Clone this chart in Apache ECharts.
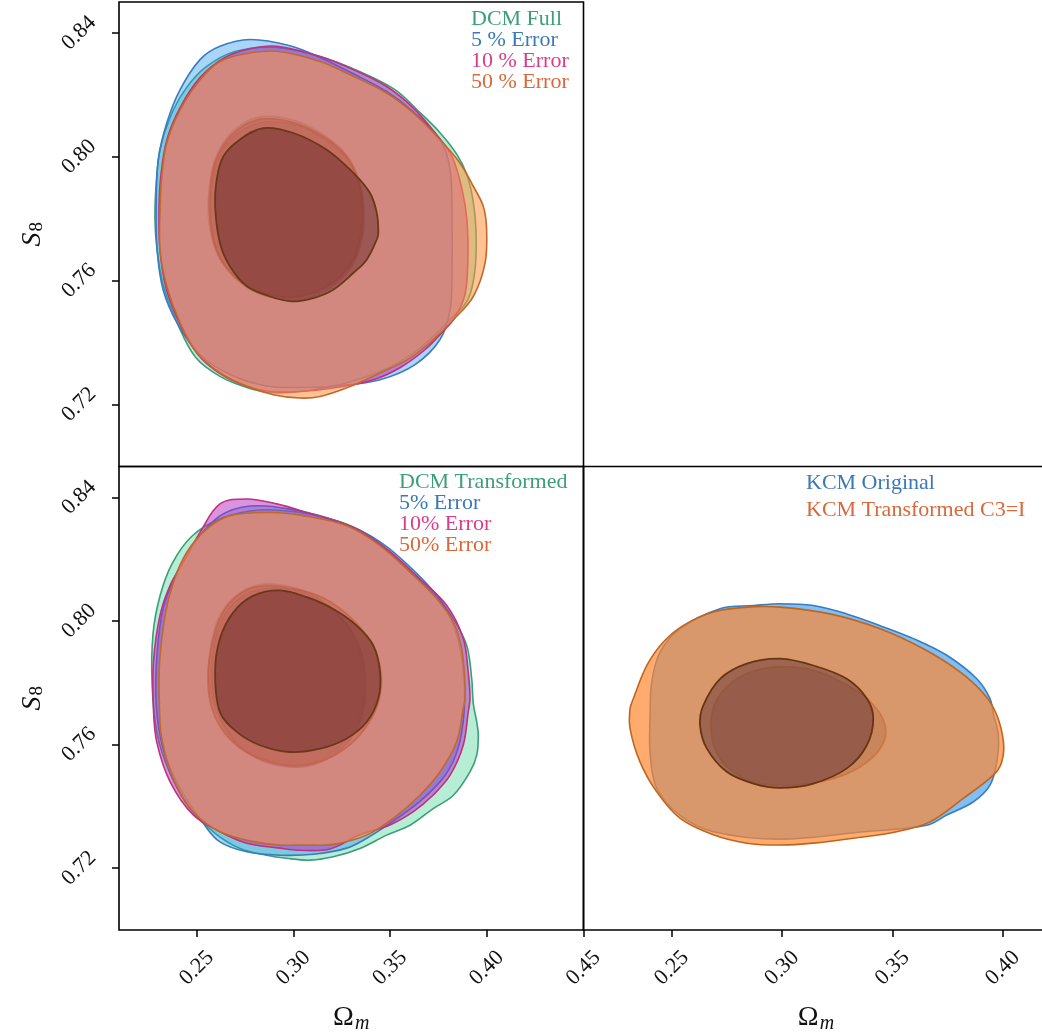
<!DOCTYPE html>
<html>
<head>
<meta charset="utf-8">
<script src="https://cdn.jsdelivr.net/npm/echarts@6/dist/echarts.min.js"></script>
<style>
  html, body { margin: 0; padding: 0; background: #fff; }
  #chart { width: 1042px; height: 1035px; }
</style>
</head>
<body>
<div id="chart"></div>
<script>
// Tick values
const yTicks = [0.72, 0.76, 0.80, 0.84];
const xTicksLeft = [0.25, 0.30, 0.35, 0.40, 0.45];
const xTicksRight = [0.25, 0.30, 0.35, 0.40];

// Legend labels
const dcmFullLabels = ['DCM Full', '5 % Error', '10 % Error', '50 % Error'];
const dcmTransLabels = ['DCM Transformed', '5% Error', '10% Error', '50% Error'];
const kcmLabels = ['KCM Original', 'KCM Transformed C3=I'];

// ---- Top-left: DCM Full, [Omega_m, S8] contour points ----
const tlGreenOuter = [[0.2910,0.8353],[0.3138,0.8324],[0.3344,0.8275],[0.3525,0.8217],[0.3654,0.8143],[0.3758,0.8078],[0.3846,0.8007],[0.3897,0.7942],[0.3928,0.7862],[0.3944,0.7765],[0.3939,0.7636],[0.3902,0.7539],[0.3810,0.7474],[0.3706,0.7410],[0.3603,0.7358],[0.3448,0.7307],[0.3241,0.7265],[0.3034,0.7242],[0.2879,0.7239],[0.2759,0.7255],[0.2620,0.7291],[0.2496,0.7351],[0.2403,0.7458],[0.2326,0.7587],[0.2295,0.7700],[0.2284,0.7797],[0.2290,0.7910],[0.2310,0.8023],[0.2362,0.8127],[0.2440,0.8217],[0.2543,0.8288],[0.2698,0.8340]];
const tlGreenInner = [[0.2812,0.8127],[0.2990,0.8120],[0.3145,0.8075],[0.3275,0.8005],[0.3340,0.7920],[0.3360,0.7825],[0.3348,0.7730],[0.3295,0.7648],[0.3190,0.7585],[0.3040,0.7548],[0.2900,0.7550],[0.2770,0.7577],[0.2665,0.7630],[0.2595,0.7705],[0.2562,0.7800],[0.2565,0.7897],[0.2597,0.7995],[0.2680,0.8078]];
const tlBlueOuter = [[0.2776,0.8379],[0.2982,0.8359],[0.3138,0.8321],[0.3308,0.8269],[0.3482,0.8211],[0.3618,0.8146],[0.3758,0.8056],[0.3810,0.7959],[0.3820,0.7797],[0.3820,0.7636],[0.3810,0.7506],[0.3758,0.7410],[0.3629,0.7329],[0.3448,0.7280],[0.3241,0.7261],[0.3034,0.7255],[0.2853,0.7261],[0.2672,0.7297],[0.2517,0.7361],[0.2403,0.7458],[0.2326,0.7571],[0.2295,0.7700],[0.2290,0.7840],[0.2301,0.7991],[0.2345,0.8109],[0.2414,0.8217],[0.2517,0.8314],[0.2620,0.8357]];
const tlBlueInner = [[0.2830,0.8110],[0.3000,0.8105],[0.3150,0.8062],[0.3272,0.7998],[0.3342,0.7915],[0.3365,0.7822],[0.3352,0.7727],[0.3300,0.7645],[0.3195,0.7580],[0.3045,0.7540],[0.2910,0.7543],[0.2780,0.7571],[0.2678,0.7624],[0.2606,0.7697],[0.2575,0.7795],[0.2577,0.7893],[0.2607,0.7988],[0.2690,0.8065]];
const tlMagentaOuter = [[0.2914,0.8357],[0.3138,0.8324],[0.3308,0.8282],[0.3482,0.8227],[0.3618,0.8159],[0.3732,0.8078],[0.3820,0.8001],[0.3872,0.7894],[0.3897,0.7797],[0.3902,0.7668],[0.3887,0.7555],[0.3835,0.7481],[0.3773,0.7436],[0.3680,0.7377],[0.3551,0.7319],[0.3412,0.7280],[0.3225,0.7255],[0.3034,0.7242],[0.2879,0.7242],[0.2750,0.7261],[0.2620,0.7300],[0.2507,0.7361],[0.2414,0.7458],[0.2341,0.7577],[0.2310,0.7700],[0.2305,0.7829],[0.2315,0.7942],[0.2346,0.8056],[0.2414,0.8159],[0.2517,0.8256],[0.2646,0.8321],[0.2776,0.8349]];
const tlMagentaInner = [[0.2817,0.8120],[0.2982,0.8114],[0.3138,0.8072],[0.3267,0.8007],[0.3334,0.7926],[0.3355,0.7829],[0.3344,0.7733],[0.3293,0.7652],[0.3189,0.7588],[0.3034,0.7549],[0.2905,0.7552],[0.2776,0.7578],[0.2672,0.7629],[0.2600,0.7700],[0.2569,0.7797],[0.2569,0.7894],[0.2600,0.7991],[0.2683,0.8072]];
const tlOrangeOuter = [[0.2914,0.8341],[0.3138,0.8308],[0.3310,0.8260],[0.3482,0.8206],[0.3620,0.8142],[0.3758,0.8056],[0.3861,0.7980],[0.3930,0.7905],[0.3982,0.7840],[0.3999,0.7765],[0.3991,0.7657],[0.3930,0.7549],[0.3827,0.7474],[0.3723,0.7410],[0.3603,0.7350],[0.3448,0.7302],[0.3276,0.7254],[0.3138,0.7226],[0.3034,0.7221],[0.2896,0.7232],[0.2759,0.7259],[0.2620,0.7302],[0.2500,0.7367],[0.2414,0.7463],[0.2345,0.7582],[0.2310,0.7700],[0.2310,0.7829],[0.2319,0.7937],[0.2345,0.8045],[0.2414,0.8152],[0.2517,0.8249],[0.2620,0.8308],[0.2750,0.8333]];
const tlOrangeInner = [[0.2844,0.8093],[0.2999,0.8077],[0.3172,0.8023],[0.3310,0.7948],[0.3396,0.7883],[0.3431,0.7819],[0.3439,0.7754],[0.3431,0.7733],[0.3379,0.7668],[0.3310,0.7625],[0.3206,0.7571],[0.3103,0.7544],[0.2991,0.7533],[0.2879,0.7549],[0.2759,0.7582],[0.2672,0.7646],[0.2620,0.7722],[0.2595,0.7840],[0.2603,0.7926],[0.2638,0.8002],[0.2724,0.8056]];

// ---- Bottom-left: DCM Transformed ----
const blGreenOuter = [[0.2828,0.8359],[0.3034,0.8351],[0.3224,0.8324],[0.3379,0.8282],[0.3482,0.8233],[0.3586,0.8169],[0.3723,0.8093],[0.3827,0.8007],[0.3896,0.7921],[0.3922,0.7813],[0.3930,0.7733],[0.3948,0.7673],[0.3956,0.7630],[0.3948,0.7566],[0.3913,0.7512],[0.3827,0.7436],[0.3723,0.7393],[0.3603,0.7339],[0.3482,0.7307],[0.3344,0.7264],[0.3206,0.7237],[0.3086,0.7226],[0.2965,0.7232],[0.2862,0.7242],[0.2724,0.7264],[0.2595,0.7313],[0.2465,0.7393],[0.2362,0.7507],[0.2295,0.7636],[0.2269,0.7797],[0.2274,0.7959],[0.2310,0.8081],[0.2372,0.8185],[0.2476,0.8275],[0.2631,0.8333]];
const blGreenInner = [[0.2830,0.8118],[0.3000,0.8108],[0.3150,0.8065],[0.3268,0.7995],[0.3335,0.7910],[0.3360,0.7815],[0.3350,0.7720],[0.3300,0.7640],[0.3200,0.7575],[0.3060,0.7535],[0.2920,0.7535],[0.2790,0.7565],[0.2680,0.7620],[0.2605,0.7700],[0.2565,0.7800],[0.2570,0.7905],[0.2610,0.8005],[0.2700,0.8080]];
const blBlueOuter = [[0.2776,0.8372],[0.2982,0.8362],[0.3241,0.8320],[0.3448,0.8256],[0.3629,0.8159],[0.3773,0.8056],[0.3851,0.7942],[0.3882,0.7813],[0.3882,0.7700],[0.3851,0.7587],[0.3784,0.7500],[0.3654,0.7416],[0.3499,0.7345],[0.3379,0.7297],[0.3275,0.7265],[0.3103,0.7245],[0.2931,0.7242],[0.2759,0.7253],[0.2620,0.7285],[0.2534,0.7345],[0.2414,0.7458],[0.2326,0.7587],[0.2290,0.7733],[0.2295,0.7894],[0.2326,0.8040],[0.2393,0.8152],[0.2491,0.8256],[0.2620,0.8340]];
const blBlueInner = [[0.2850,0.8105],[0.3015,0.8098],[0.3160,0.8055],[0.3280,0.7985],[0.3350,0.7900],[0.3372,0.7805],[0.3360,0.7712],[0.3310,0.7632],[0.3210,0.7568],[0.3070,0.7530],[0.2930,0.7532],[0.2800,0.7560],[0.2692,0.7617],[0.2618,0.7695],[0.2580,0.7795],[0.2585,0.7900],[0.2625,0.7995],[0.2715,0.8070]];
const blMagentaOuter = [[0.2759,0.8395],[0.2914,0.8379],[0.3069,0.8351],[0.3310,0.8303],[0.3482,0.8233],[0.3654,0.8136],[0.3793,0.8050],[0.3878,0.7943],[0.3904,0.7835],[0.3913,0.7749],[0.3904,0.7706],[0.3878,0.7598],[0.3810,0.7501],[0.3723,0.7437],[0.3620,0.7383],[0.3499,0.7340],[0.3344,0.7308],[0.3189,0.7262],[0.3034,0.7258],[0.2931,0.7265],[0.2759,0.7281],[0.2620,0.7318],[0.2482,0.7372],[0.2362,0.7480],[0.2293,0.7609],[0.2276,0.7717],[0.2276,0.7867],[0.2310,0.8018],[0.2362,0.8115],[0.2431,0.8190],[0.2517,0.8287],[0.2620,0.8379]];
const blMagentaInner = [[0.2838,0.8114],[0.3008,0.8104],[0.3163,0.8072],[0.3303,0.8007],[0.3406,0.7926],[0.3453,0.7829],[0.3437,0.7733],[0.3370,0.7652],[0.3267,0.7587],[0.3138,0.7545],[0.3008,0.7532],[0.2879,0.7545],[0.2750,0.7578],[0.2646,0.7636],[0.2579,0.7717],[0.2558,0.7813],[0.2579,0.7926],[0.2631,0.8023],[0.2724,0.8088]];
const blOrangeOuter = [[0.2879,0.8351],[0.3051,0.8341],[0.3276,0.8308],[0.3448,0.8244],[0.3603,0.8158],[0.3741,0.8072],[0.3827,0.7996],[0.3870,0.7910],[0.3887,0.7802],[0.3887,0.7749],[0.3878,0.7716],[0.3844,0.7609],[0.3758,0.7512],[0.3654,0.7436],[0.3516,0.7361],[0.3379,0.7307],[0.3206,0.7277],[0.3069,0.7275],[0.2931,0.7275],[0.2793,0.7286],[0.2620,0.7318],[0.2482,0.7382],[0.2379,0.7490],[0.2319,0.7620],[0.2307,0.7727],[0.2307,0.7862],[0.2336,0.8018],[0.2379,0.8125],[0.2448,0.8222],[0.2552,0.8298],[0.2672,0.8341]];
const blOrangeInner = [[0.2931,0.8099],[0.3069,0.8077],[0.3206,0.8039],[0.3327,0.7985],[0.3413,0.7921],[0.3448,0.7835],[0.3439,0.7749],[0.3379,0.7673],[0.3276,0.7620],[0.3138,0.7587],[0.2982,0.7576],[0.2827,0.7598],[0.2707,0.7641],[0.2620,0.7705],[0.2595,0.7835],[0.2620,0.7943],[0.2689,0.8028],[0.2793,0.8082]];

// ---- Bottom-right: KCM ----
const brBlueOuter = [[0.2991,0.8056],[0.3142,0.8050],[0.3293,0.8023],[0.3444,0.7985],[0.3595,0.7943],[0.3746,0.7889],[0.3882,0.7813],[0.3942,0.7749],[0.3957,0.7700],[0.3980,0.7630],[0.3973,0.7544],[0.3942,0.7469],[0.3867,0.7415],[0.3746,0.7372],[0.3655,0.7339],[0.3368,0.7318],[0.2991,0.7294],[0.2688,0.7318],[0.2538,0.7371],[0.2432,0.7458],[0.2402,0.7571],[0.2402,0.7700],[0.2409,0.7802],[0.2447,0.7899],[0.2538,0.7975],[0.2719,0.8040],[0.2870,0.8050]];
const brBlueInner = [[0.2991,0.7852],[0.3149,0.7839],[0.3299,0.7791],[0.3408,0.7733],[0.3467,0.7662],[0.3453,0.7597],[0.3376,0.7539],[0.3263,0.7497],[0.3127,0.7474],[0.2991,0.7468],[0.2864,0.7481],[0.2764,0.7520],[0.2701,0.7578],[0.2678,0.7652],[0.2692,0.7726],[0.2755,0.7791],[0.2864,0.7836]];
const brOrangeOuter = [[0.2840,0.8045],[0.2991,0.8045],[0.3217,0.8023],[0.3444,0.7975],[0.3640,0.7910],[0.3806,0.7835],[0.3920,0.7759],[0.3973,0.7695],[0.4003,0.7608],[0.3995,0.7544],[0.3957,0.7501],[0.3821,0.7426],[0.3670,0.7350],[0.3519,0.7318],[0.3323,0.7297],[0.3142,0.7281],[0.2991,0.7275],[0.2840,0.7281],[0.2688,0.7308],[0.2538,0.7361],[0.2432,0.7447],[0.2356,0.7544],[0.2311,0.7652],[0.2311,0.7717],[0.2326,0.7749],[0.2387,0.7856],[0.2462,0.7932],[0.2553,0.7986],[0.2688,0.8029]];
const brOrangeInner = [[0.2991,0.7878],[0.3142,0.7856],[0.3293,0.7813],[0.3384,0.7749],[0.3413,0.7685],[0.3384,0.7598],[0.3293,0.7523],[0.3142,0.7474],[0.2991,0.7460],[0.2870,0.7474],[0.2749,0.7512],[0.2659,0.7587],[0.2628,0.7662],[0.2643,0.7727],[0.2719,0.7813],[0.2840,0.7862]];

// Styles
const SERIF = "'Liberation Serif', 'DejaVu Serif', serif";
const dcmStyle = {
    green:   { outer: 'rgba(70,210,150,0.4)',  inner: 'rgba(25,110,75,0.35)', edge: '#3a9e78', innerEdge: 'rgba(40,100,70,0.7)' },
    blue:    { outer: 'rgba(40,150,240,0.4)',  inner: 'rgba(25,70,150,0.35)', edge: '#3b7cc0', innerEdge: 'rgba(40,70,130,0.7)' },
    magenta: { outer: 'rgba(182,40,190,0.5)',  inner: 'rgba(110,20,80,0.4)',  edge: '#c2307f', innerEdge: 'rgba(120,30,70,0.7)' },
    orange:  { outer: 'rgba(255,148,62,0.56)', inner: 'rgba(105,40,40,0.5)',  edge: '#c0692a', innerEdge: '#6b3818' }
};
const kcmStyle = {
    blue:   { outer: 'rgba(74,162,240,0.7)', inner: 'rgba(40,90,160,0.6)', edge: '#3a7cc0', innerEdge: 'rgba(80,70,90,0.8)' },
    orange: { outer: 'rgba(255,136,48,0.7)', inner: 'rgba(110,60,60,0.55)', edge: '#c0651e', innerEdge: '#6b3410' }
};
const legendColors = { green: '#3d9e78', blue: '#3b78b7', magenta: '#dd3c84', orange: '#d9683a' };

// Filled contour drawn as a smoothed polygon through the grid's own scales
const contour = (gridIdx, pts, fill, stroke, lw) => ({
    type: 'custom',
    coordinateSystem: 'cartesian2d',
    xAxisIndex: gridIdx,
    yAxisIndex: gridIdx,
    silent: true,
    data: [pts[0]],
    renderItem: (params, api) => ({
        type: 'polygon',
        shape: { points: pts.map(p => api.coord(p)), smooth: 0.35 },
        style: { fill: fill, stroke: stroke, lineWidth: lw }
    })
});

const contourSet = (gridIdx, outer, inner, st) => [
    contour(gridIdx, outer, st.outer, st.edge, 1.6),
    contour(gridIdx, inner, st.inner, st.innerEdge, 1.8)
];

const series = [
    ...contourSet(0, tlGreenOuter, tlGreenInner, dcmStyle.green),
    ...contourSet(0, tlBlueOuter, tlBlueInner, dcmStyle.blue),
    ...contourSet(0, tlMagentaOuter, tlMagentaInner, dcmStyle.magenta),
    ...contourSet(0, tlOrangeOuter, tlOrangeInner, dcmStyle.orange),
    ...contourSet(1, blGreenOuter, blGreenInner, dcmStyle.green),
    ...contourSet(1, blBlueOuter, blBlueInner, dcmStyle.blue),
    ...contourSet(1, blMagentaOuter, blMagentaInner, dcmStyle.magenta),
    ...contourSet(1, blOrangeOuter, blOrangeInner, dcmStyle.orange),
    ...contourSet(2, brBlueOuter, brBlueInner, kcmStyle.blue),
    ...contourSet(2, brOrangeOuter, brOrangeInner, kcmStyle.orange)
];

const tick = { show: true, inside: false, length: 7, lineStyle: { color: '#000', width: 1.5 } };
const tickLabel = {
    rotate: 45, align: 'center', verticalAlign: 'middle',
    fontFamily: SERIF, fontSize: 22, color: '#111',
    formatter: v => Number(v).toFixed(2)
};
const omegaName = {
    name: '{o|Ω}{m|m}',
    nameLocation: 'middle',
    nameGap: 72,
    nameTextStyle: {
        rich: {
            o: { fontFamily: SERIF, fontSize: 28, color: '#111' },
            m: { fontFamily: SERIF, fontSize: 20, fontStyle: 'italic', color: '#111', padding: [12, 0, 0, 1] }
        }
    }
};
const s8Name = {
    name: '{s|S}{n|8}',
    nameLocation: 'middle',
    nameRotate: 90,
    nameGap: 72,
    nameTextStyle: {
        rich: {
            s: { fontFamily: SERIF, fontSize: 28, fontStyle: 'italic', color: '#111' },
            n: { fontFamily: SERIF, fontSize: 19, color: '#111', padding: [10, 0, 0, 1] }
        }
    }
};

const noAxisLine = { show: false };
const gridBox = { show: true, borderColor: '#000', borderWidth: 1.6, backgroundColor: 'transparent', outerBoundsMode: 'none', containLabel: false };

const legendText = (x, y0, dy, labels, colors) => labels.map((t, i) => ({
    type: 'text', left: x, top: y0 + i * dy, silent: true,
    style: { text: t, fill: colors[i], font: "22px 'Liberation Serif', 'DejaVu Serif', serif" }
}));

const option = {
    animation: false,
    backgroundColor: '#fff',
    grid: [
        Object.assign({ left: 119, top: 2, width: 464.5, height: 464.5 }, gridBox),
        Object.assign({ left: 119, top: 466.5, width: 464.5, height: 463.5 }, gridBox),
        Object.assign({ left: 583.5, top: 466.5, width: 465, height: 463.5 }, gridBox)
    ],
    xAxis: [
        { gridIndex: 0, type: 'value', min: 0.2098, max: 0.45, axisLine: noAxisLine, axisTick: { show: false }, axisLabel: { show: false }, splitLine: { show: false } },
        Object.assign({ gridIndex: 1, type: 'value', min: 0.2098, max: 0.45, axisLine: noAxisLine,
            axisTick: Object.assign({ customValues: xTicksLeft }, tick),
            axisLabel: Object.assign({ customValues: xTicksLeft, margin: 38 }, tickLabel),
            splitLine: { show: false } }, omegaName),
        Object.assign({ gridIndex: 2, type: 'value', min: 0.21, max: 0.4207, axisLine: noAxisLine,
            axisTick: Object.assign({ customValues: xTicksRight }, tick),
            axisLabel: Object.assign({ customValues: xTicksRight, margin: 38 }, tickLabel),
            splitLine: { show: false } }, omegaName)
    ],
    yAxis: [
        Object.assign({ gridIndex: 0, type: 'value', min: 0.70, max: 0.85, axisLine: noAxisLine,
            axisTick: Object.assign({ customValues: yTicks }, tick),
            axisLabel: Object.assign({ customValues: yTicks, margin: 40 }, tickLabel),
            splitLine: { show: false } }, s8Name),
        Object.assign({ gridIndex: 1, type: 'value', min: 0.70, max: 0.85, axisLine: noAxisLine,
            axisTick: Object.assign({ customValues: yTicks }, tick),
            axisLabel: Object.assign({ customValues: yTicks, margin: 40 }, tickLabel),
            splitLine: { show: false } }, s8Name),
        { gridIndex: 2, type: 'value', min: 0.70, max: 0.85, axisLine: noAxisLine, axisTick: { show: false }, axisLabel: { show: false }, splitLine: { show: false } }
    ],
    graphic: [
        ...legendText(471, 8, 21, dcmFullLabels, [legendColors.green, legendColors.blue, legendColors.magenta, legendColors.orange]),
        ...legendText(399, 471, 21, dcmTransLabels, [legendColors.green, legendColors.blue, legendColors.magenta, legendColors.orange]),
        ...legendText(806, 472, 27.5, kcmLabels, [legendColors.blue, legendColors.orange])
    ],
    series: series
};

const chart = echarts.init(document.getElementById('chart'), null, { renderer: 'canvas' });
chart.setOption(option);
</script>
</body>
</html>
